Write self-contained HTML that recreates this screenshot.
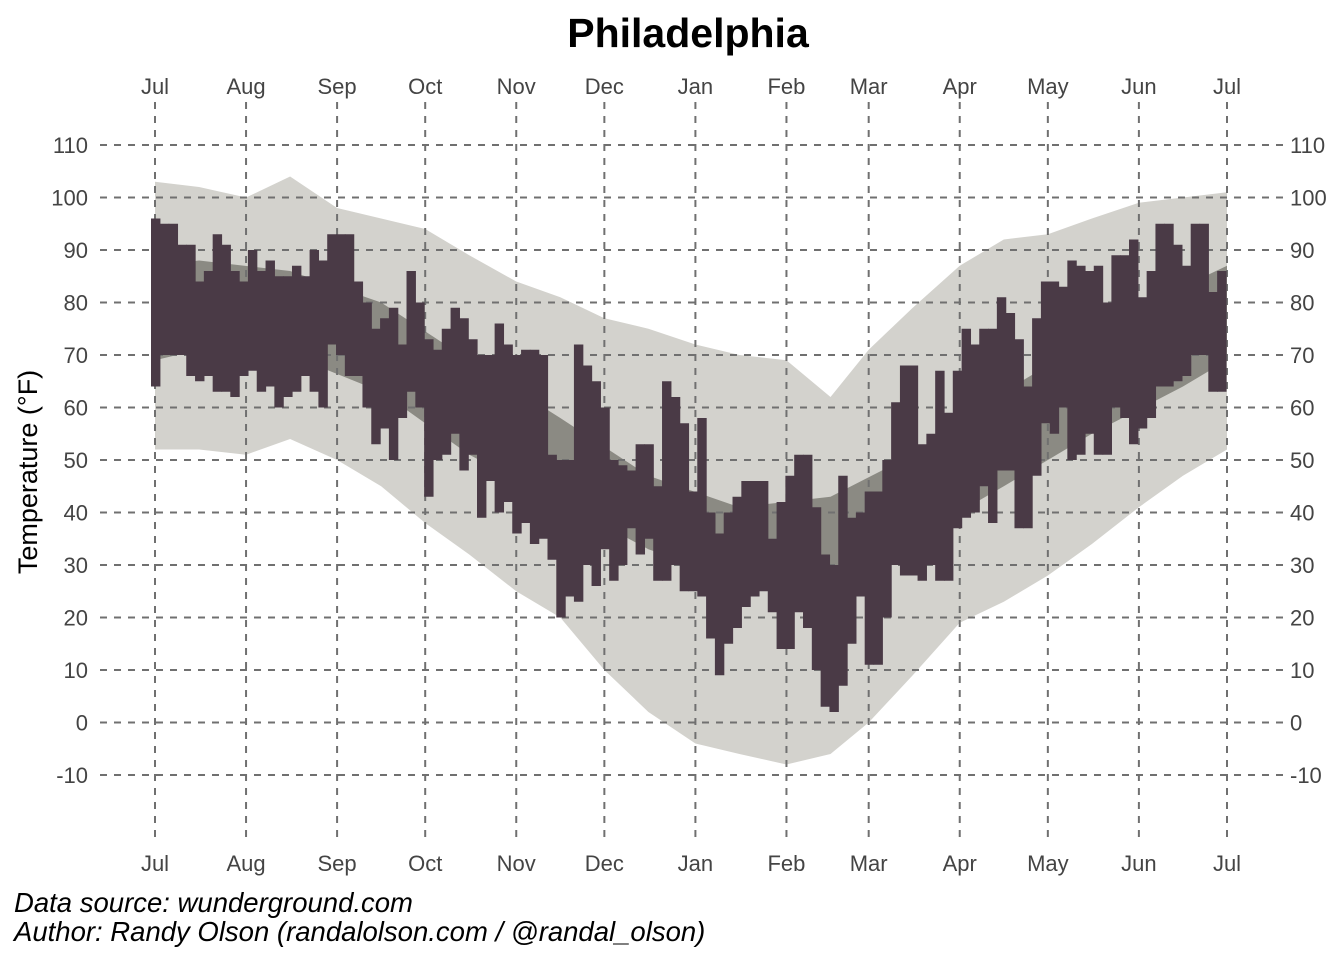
<!DOCTYPE html>
<html><head><meta charset="utf-8">
<style>
html,body{margin:0;padding:0;background:#fff;}
svg{display:block;font-family:"Liberation Sans",sans-serif;}
</style></head>
<body>
<svg id="chart" width="1344" height="960" viewBox="0 0 1344 960" xmlns="http://www.w3.org/2000/svg">
<text x="688" y="47" text-anchor="middle" font-size="41" font-weight="bold" fill="#000">Philadelphia</text>
<text transform="translate(37,472) rotate(-90)" text-anchor="middle" font-size="27" fill="#000">Temperature (°F)</text>
<g id="bands"></g>
<g id="grid"></g>
<g id="bars"></g>
<g id="labels"></g>
<text x="14" y="912" font-size="27.5" font-style="italic" fill="#000">Data source: wunderground.com</text>
<text x="14" y="941" font-size="27.5" font-style="italic" fill="#000">Author: Randy Olson (randalolson.com / @randal_olson)</text>
</svg>
<script>
const months = ["Jul","Aug","Sep","Oct","Nov","Dec","Jan","Feb","Mar","Apr","May","Jun","Jul"];
const monthDays = [0,31,62,92,123,153,184,215,243,274,304,335,365];
const yTicks = [110,100,90,80,70,60,50,40,30,20,10,0,-10];
const recDays = [0,15,31,46,62,77,92,107,123,138,153,168,184,199,215,230,243,258,274,289,304,319,335,350,365];
const recHigh = [103,102,100,104,98,96,94,89,84,81,77,75,72,70,69,62,71,79,87,92,93,96,99,100,101];
const recLow = [52,52,51,54,50,45,38,32,25,20,10,2,-4,-6,-8,-6,0,9,19,23,28,34,41,47,52];
const avgDays = [0,15,46,77,107,138,168,199,230,258,289,319,350,365];
const avgHigh = [87,88,86,80,69,58,47,41,43,51,63,73,83,87];
const avgLow = [69,71,70,63,51,42,33,27,28,35,45,55,64,69];
const binDays = 3;
const actHigh = [96,95,95,91,91,84,86,93,91,86,84,90,86,88,85,85,87,85,90,88,93,93,93,84,80,75,77,79,72,86,80,73,71,75,79,77,73,70,70,76,72,70,
71,71,70,51,50,50,72,68,65,60,50,49,48,53,53,45,65,62,57,44,58,40,36,40,43,46,46,46,35,42,47,51,51,41,32,30,47,39,40,44,44,50,61,
68,68,53,55,67,59,67,75,72,75,75,81,78,73,64,77,84,84,83,88,87,86,87,80,89,89,92,81,86,95,95,91,87,95,95,82,86];
const actLow = [64,70,70,70,66,65,66,63,63,62,66,67,63,64,60,62,63,66,63,60,72,70,66,66,60,53,56,50,58,63,60,43,50,51,55,48,51,39,46,40,42,36,
38,34,35,31,20,24,23,30,26,33,27,30,37,32,35,27,27,30,25,25,24,16,9,15,18,22,24,25,21,14,14,21,18,10,3,2,7,15,24,11,11,20,30,
28,28,27,30,27,27,37,39,40,45,38,48,48,37,37,47,57,55,60,50,51,55,51,51,60,58,53,56,58,64,64,65,66,70,70,63,63];

const NS="http://www.w3.org/2000/svg";
const x0=155, x1=1227, yTop=145, yBot=775;
function xs(d){return x0+(x1-x0)*d/365;}
function ys(t){return yTop+(110-t)*(yBot-yTop)/120;}
function mk(tag,attrs,parent){const e=document.createElementNS(NS,tag);for(const k in attrs)e.setAttribute(k,attrs[k]);parent.appendChild(e);return e;}
function band(days,hi,lo,fill,name){
  let pts=[];
  for(let i=0;i<days.length;i++)pts.push(xs(days[i])+","+ys(hi[i]));
  for(let i=days.length-1;i>=0;i--)pts.push(xs(days[i])+","+ys(lo[i]));
  const p=mk("polygon",{points:pts.join(" "),fill:fill},document.getElementById("bands"));
  
  
}
band(recDays,recHigh,recLow,"#d3d2cd","record-range-band");
band(avgDays,avgHigh,avgLow,"#8b8a83","average-range-band");

const grid=document.getElementById("grid");
yTicks.forEach(t=>{
  const l=mk("line",{x1:100,x2:1285,y1:ys(t),y2:ys(t),stroke:"#707070","stroke-width":2,"stroke-dasharray":"7,7"},grid);
  
  
});
monthDays.forEach(d=>{
  const l=mk("line",{x1:xs(d),x2:xs(d),y1:102,y2:840,stroke:"#707070","stroke-width":2,"stroke-dasharray":"7,7"},grid);
  
  
});

const bars=document.getElementById("bars");
for(let i=0;i<actHigh.length;i++){
  const xa=xs(i*binDays)-4, xb=xs((i+1)*binDays)-4;
  const r=mk("rect",{x:xa,y:ys(actHigh[i]),width:xb-xa+0.6,height:ys(actLow[i])-ys(actHigh[i]),fill:"#4a3a46"},bars);
  
  
}

const lab=document.getElementById("labels");
yTicks.forEach(t=>{
  const a=mk("text",{x:88,y:ys(t)+8,"text-anchor":"end","font-size":22,fill:"#444"},lab);
  a.textContent=t;
  
  
  const b=mk("text",{x:1290,y:ys(t)+8,"text-anchor":"start","font-size":22,fill:"#444"},lab);
  b.textContent=t;
  
  
});
months.forEach((m,i)=>{
  const a=mk("text",{x:xs(monthDays[i]),y:94,"text-anchor":"middle","font-size":22,fill:"#444"},lab);
  a.textContent=m;
  
  
  const b=mk("text",{x:xs(monthDays[i]),y:871,"text-anchor":"middle","font-size":22,fill:"#444"},lab);
  b.textContent=m;
  
  
});
</script>
</body></html>
